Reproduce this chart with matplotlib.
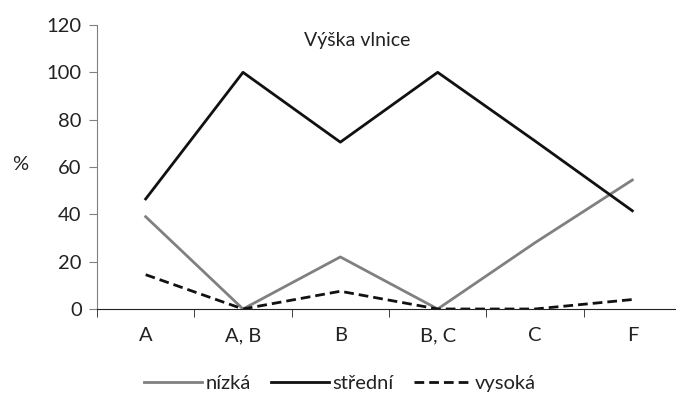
import numpy as np
import matplotlib
matplotlib.use("Agg")
import matplotlib.pyplot as plt

plt.rcParams['font.family'] = ['Lato', 'DejaVu Sans']

kategorie = ["A", "A, B", "B", "B, C", "C", "F"]
nizka = [39, 0, 22, 0, 28, 54.5]
stredni = [46.5, 100, 70.5, 100, 71, 41.5]
vysoka = [14.5, 0, 7.5, 0, 0, 4]

fig = plt.figure(figsize=(6.76, 4.04), dpi=100)
ax = fig.add_axes([97/676, 1 - 309/404, 584/676, 284/404])

x = np.arange(len(kategorie))
ax.plot(x, nizka, color="#808080", lw=2, label="nízká")
ax.plot(x, stredni, color="#111111", lw=2, label="střední")
ax.plot(x, vysoka, color="#111111", lw=2, ls=(0, (3.5, 1.8)), label="vysoká")

ax.set_xlim(-0.5, 5.5)
ax.set_ylim(0, 120)
ax.set_yticks(range(0, 121, 20))
ax.set_xticks(x)
ax.set_xticklabels(kategorie)
ax.set_xticks(np.arange(-0.5, 5.5, 1), minor=True)
ax.tick_params(axis="x", which="major", length=0, pad=13, labelsize=14.5, colors="#222222")
ax.tick_params(axis="x", which="minor", length=6, direction="out", color="#222222")
ax.tick_params(axis="y", length=6, direction="out", labelsize=14.5, color="#808080", labelcolor="#222222", pad=5)

for s in ["top", "right"]:
    ax.spines[s].set_visible(False)
ax.spines["left"].set_color("#808080")
ax.spines["bottom"].set_color("#222222")

ax.text(0.446, 0.975, "Výška vlnice", transform=ax.transAxes, ha="center", va="top",
        fontsize=14, color="#222222")
fig.text(20/676, 1 - 165/404, "%", ha="center", va="center", fontsize=14.5, color="#222222")

fig.legend(loc="center", bbox_to_anchor=(340/676, 1 - 383/404), ncol=3, frameon=False,
           fontsize=14.5, handlelength=2.9, handletextpad=0.15, columnspacing=1.0,
           labelcolor="#222222")

fig.savefig("out.png", dpi=100)
